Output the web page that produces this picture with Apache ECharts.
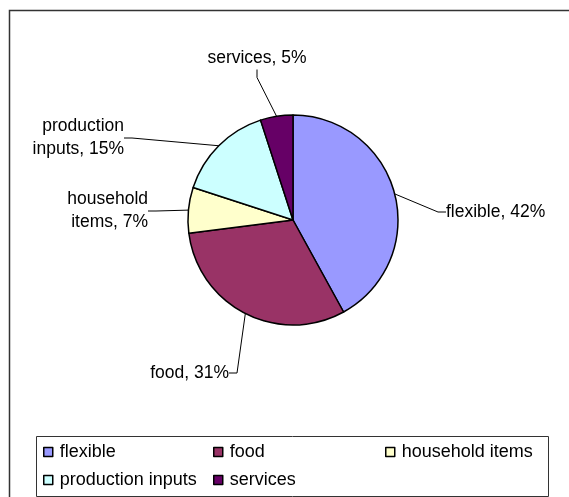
<!DOCTYPE html>
<html>
<head>
<meta charset="utf-8">
<script src="https://cdn.jsdelivr.net/npm/echarts@6/dist/echarts.min.js"></script>
<style>
  html, body { margin: 0; padding: 0; background: #fff; }
  #chart { width: 569px; height: 497px; }
</style>
</head>
<body>
<div id="chart"></div>
<script>
  // values (percent)
  var categories = ['flexible', 'food', 'household items', 'production inputs', 'services'];
  var shares = [42, 31, 7, 15, 5];
  var colors = ['#9999FF', '#993366', '#FFFFCC', '#CCFFFF', '#660066'];

  // where Excel put each data label (anchor x, y, alignment)
  var labelSpots = [
    { x: 446, y: 212, align: 'left' },
    { x: 229, y: 373, align: 'right' },
    { x: 148, y: 211, align: 'right' },
    { x: 124, y: 138, align: 'right' },
    { x: 257, y: 58, align: 'center' }
  ];
  // legend item spots (left, top)
  var legendSpots = [[43, 442], [213, 442], [385, 442], [43, 470], [213, 470]];

  var font = '"Liberation Sans", Arial, sans-serif';
  var pieData = [];
  for (var i = 0; i < categories.length; i++) {
    pieData.push({ name: categories[i], value: shares[i], itemStyle: { color: colors[i] } });
  }

  var legends = [];
  for (var j = 0; j < categories.length; j++) {
    legends.push({
      data: [categories[j]],
      left: legendSpots[j][0],
      top: legendSpots[j][1],
      icon: 'rect',
      itemWidth: 9,
      itemHeight: 9,
      itemGap: 0,
      padding: 0,
      selectedMode: false,
      itemStyle: { borderColor: '#000', borderWidth: 1.5 },
      textStyle: { fontFamily: font, fontSize: 18, lineHeight: 20, color: '#000', padding: [0, 0, 0, 2] }
    });
  }

  var myChart = echarts.init(document.getElementById('chart'));
  myChart.setOption({
    backgroundColor: '#fff',
    animation: false,
    graphic: [
      { type: 'rect', shape: { x: 9.5, y: 10.5, width: 600, height: 520 },
        style: { fill: 'none', stroke: '#333', lineWidth: 1.5 }, z: -1 },
      { type: 'rect', shape: { x: 36.5, y: 436.5, width: 512, height: 60 },
        style: { fill: '#fff', stroke: '#333', lineWidth: 1 }, z: -1 }
    ],
    legend: legends,
    series: [{
      type: 'pie',
      center: [293, 220],
      radius: 105,
      startAngle: 90,
      clockwise: true,
      data: pieData,
      itemStyle: { borderColor: '#000', borderWidth: 1.5 },
      emphasis: { disabled: true },
      label: {
        show: true,
        color: '#000',
        fontFamily: font,
        fontSize: 17.5,
        lineHeight: 23,
        formatter: function (p) {
          return p.name.replace(' ', '\n') + ', ' + p.value + '%';
        }
      },
      labelLine: { show: true, length: 15, length2: 8, lineStyle: { color: '#000', width: 1 } },
      labelLayout: function (p) {
        var s = labelSpots[p.dataIndex];
        return { x: s.x, y: s.y, align: s.align, verticalAlign: 'middle' };
      }
    }]
  });
</script>
</body>
</html>
